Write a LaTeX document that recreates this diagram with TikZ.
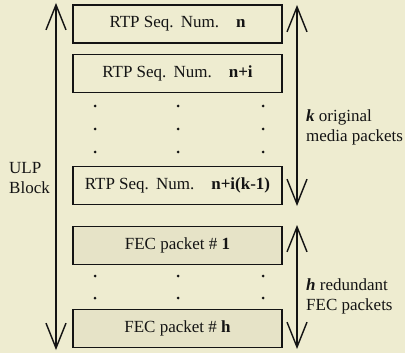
\documentclass[tikz,border=0pt]{standalone}
\usepackage{fontspec}
\setmainfont{Liberation Serif}
\usetikzlibrary{arrows.meta}
\definecolor{bgc}{RGB}{238,236,208}
\definecolor{fecc}{RGB}{230,227,199}
\definecolor{inkc}{RGB}{20,20,20}
\tikzset{
  pkt/.style={draw=inkc, line width=1.8pt, minimum width=209pt, minimum height=38pt, inner sep=0pt, font=\fontsize{17}{20}\selectfont, text=inkc},
  rtp/.style={pkt, fill=bgc},
  fec/.style={pkt, fill=fecc},
  dotc/.style={circle, fill=inkc, inner sep=0pt, minimum size=3pt},
  span/.style={draw=inkc, line width=1.4pt, {Straight Barb[length=25pt,width=20pt,line width=1.4pt]}-{Straight Barb[length=25pt,width=20pt,line width=1.4pt]}},
  lbl/.style={font=\fontsize{17}{20}\selectfont, text=inkc, align=left, anchor=west, inner sep=0pt}
}
\begin{document}
\begin{tikzpicture}[x=1pt,y=-1pt]
\fill[bgc] (0,0) rectangle (405,353);
\useasboundingbox (0,0) rectangle (405,353);
% packet boxes
\node[rtp] (r1) at (177.5,24) {RTP Seq.\ \,Num.\quad\textbf{n}};
\node[rtp] (r2) at (177.5,73.5) {RTP Seq.\ \,Num.\quad\textbf{n+i}};
\node[rtp] (r3) at (177.5,185.5) {RTP Seq.\ \,Num.\quad\textbf{n+i(k-1)}};
\node[fec] (f1) at (177.5,245.5) {FEC packet \# \textbf{1}};
\node[fec] (f2) at (177.5,328.5) {FEC packet \# \textbf{h}};
% dots
\foreach \yy/\nm in {106/a,129/b,152/c,276/d,298/e}{
  \node[dotc] (d1\nm) at (95,\yy) {};
  \node[dotc] (d2\nm) at (178,\yy) {};
  \node[dotc] (d3\nm) at (263,\yy) {};
}
% arrows
\coordinate (ulpT) at (56,3);
\coordinate (ulpB) at (56,350);
\coordinate (kT) at (297,5);
\coordinate (kB) at (297,206);
\coordinate (hT) at (297,225);
\coordinate (hB) at (297,349);
\draw[span] (ulpT) -- (ulpB);
\draw[span] (kT) -- (kB);
\draw[span] (hT) -- (hB);
% labels
\node[lbl] (ulp) at (9,178) {ULP\\Block};
\node[lbl] (klab) at (306,127) {\textbf{\textit{k}} original\\media packets};
\node[lbl] (hlab) at (306,296) {\textbf{\textit{h}} redundant\\FEC packets};
\end{tikzpicture}
\end{document}
